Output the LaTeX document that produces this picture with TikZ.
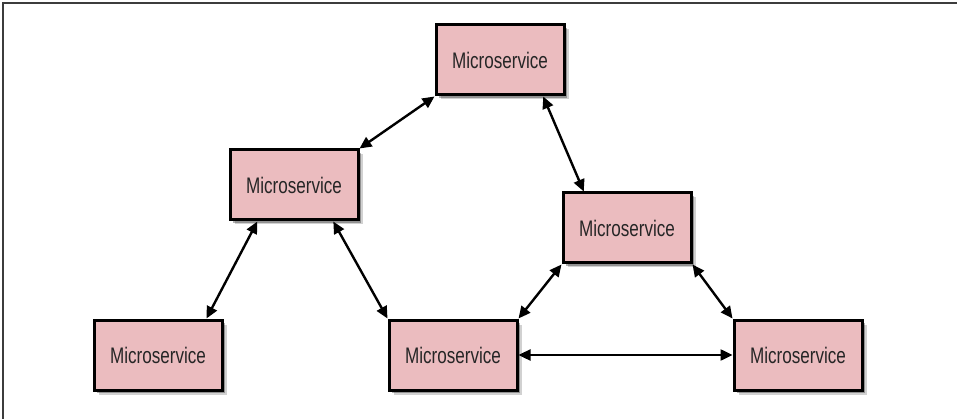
\documentclass[tikz,border=0pt]{standalone}
\usepackage{fontspec}
\setmainfont{Liberation Sans}[FakeStretch=0.76]
\usetikzlibrary{arrows.meta,shadows,calc}
\definecolor{boxpink}{RGB}{235,188,191}
\definecolor{framegray}{RGB}{60,60,60}
\tikzset{
  msbox/.style={draw=black, line width=3pt, fill=boxpink,
    minimum width=128pt, minimum height=70pt, inner sep=0pt,
    font=\fontsize{22.5}{26}\selectfont\color{black!85},
    drop shadow={shadow xshift=4.5pt, shadow yshift=-4.5pt, fill=black, opacity=0.18},
    drop shadow={shadow xshift=3pt, shadow yshift=-3pt, fill=black, opacity=0.3}},
  link/.style={line width=2.4pt, {Triangle[length=12pt,width=11pt]}-{Triangle[length=12pt,width=11pt]}}
}
\begin{document}
\begin{tikzpicture}[x=1pt,y=-1pt]
\useasboundingbox (0,0) rectangle (957,419);
\draw[framegray, line width=1.8pt] (957,3) -- (3,3) -- (3,419);
\node[msbox] (top) at (500,60) {Microservice};
\node[msbox] (lm) at (294,185) {Microservice};
\node[msbox] (rm) at (627,228) {Microservice};
\node[msbox] (bl) at (158,355) {Microservice};
\node[msbox] (bm) at (453,355) {Microservice};
\node[msbox] (br) at (798,355) {Microservice};
\draw[link] (top.south west) -- (lm.north east);
\draw[link] ($(top.south west)!0.83!(top.south east)$) -- ($(rm.north west)!0.17!(rm.north east)$);
\draw[link] ($(lm.south west)!0.22!(lm.south east)$) -- ($(bl.north west)!0.87!(bl.north east)$);
\draw[link] ($(lm.south west)!0.8!(lm.south east)$) -- (bm.north west);
\draw[link] (rm.south west) -- (bm.north east);
\draw[link] (rm.south east) -- (br.north west);
\draw[link] (bm.east) -- (br.west);
\end{tikzpicture}
\end{document}
